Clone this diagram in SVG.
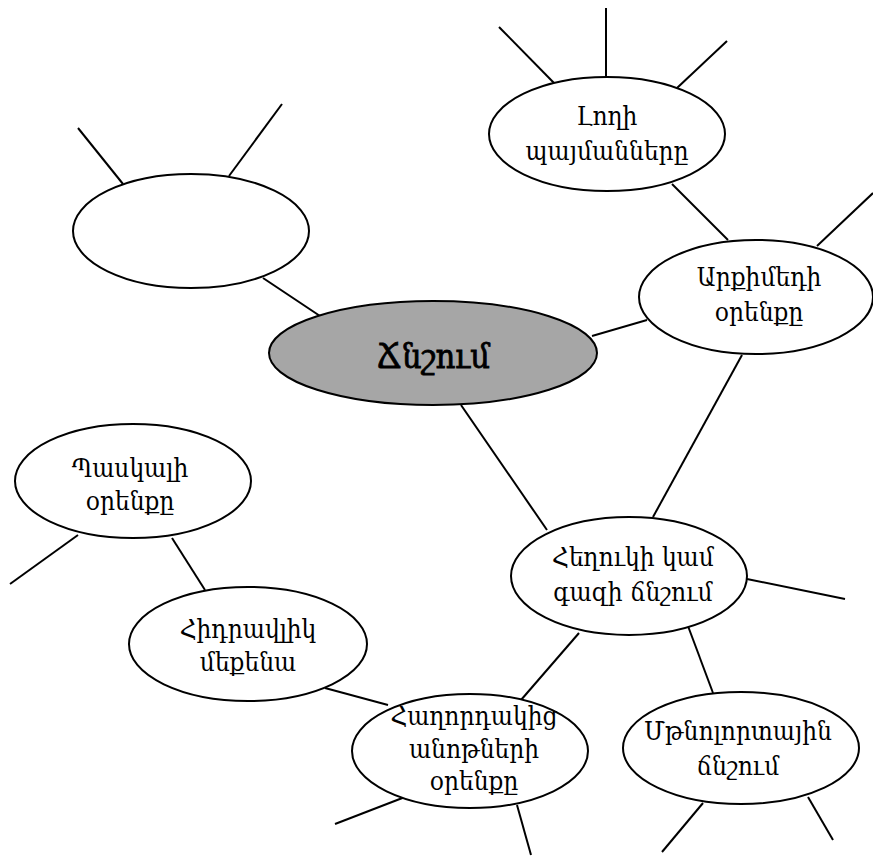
<svg xmlns="http://www.w3.org/2000/svg" width="873" height="856" viewBox="0 0 873 856">
  <style>
    .bg { fill: #ffffff; }
    .edge { stroke: #000000; stroke-width: 2; fill: none; }
    .node { fill: #ffffff; stroke: #000000; stroke-width: 2; }
    .hub { fill: #a6a6a6; stroke: #000000; stroke-width: 2; }
    .label { font-family: "DejaVu Serif Condensed", "DejaVu Serif", serif; font-size: 26px; fill: #000000; text-anchor: middle; }
    .title { font-family: "DejaVu Serif Condensed", "DejaVu Serif", serif; font-size: 34px; fill: #000000; stroke: #000000; stroke-width: 0.8; text-anchor: middle; }
  </style>
  <rect class="bg" x="0" y="0" width="873" height="856"/>

  <!-- connectors: spokes and links between the bubbles -->
  <g id="connectors">
    <line class="edge" x1="499" y1="27" x2="555" y2="84"/>
    <line class="edge" x1="606" y1="8" x2="606" y2="77"/>
    <line class="edge" x1="727" y1="41" x2="677" y2="88"/>
    <line class="edge" x1="672" y1="184" x2="728" y2="240"/>
    <line class="edge" x1="817" y1="246" x2="873" y2="193"/>
    <line class="edge" x1="592" y1="336" x2="647" y2="320"/>
    <line class="edge" x1="742" y1="355" x2="653" y2="517"/>
    <line class="edge" x1="78" y1="128" x2="123" y2="184"/>
    <line class="edge" x1="282" y1="104" x2="229" y2="176"/>
    <line class="edge" x1="263" y1="278" x2="320" y2="316"/>
    <line class="edge" x1="461" y1="405" x2="547" y2="530"/>
    <line class="edge" x1="747" y1="579" x2="845" y2="599"/>
    <line class="edge" x1="579" y1="633" x2="521" y2="700"/>
    <line class="edge" x1="688" y1="626" x2="713" y2="693"/>
    <line class="edge" x1="172" y1="538" x2="205" y2="590"/>
    <line class="edge" x1="10" y1="584" x2="78" y2="535"/>
    <line class="edge" x1="325" y1="688" x2="388" y2="705"/>
    <line class="edge" x1="335" y1="824" x2="405" y2="797"/>
    <line class="edge" x1="517" y1="805" x2="531" y2="855"/>
    <line class="edge" x1="662" y1="852" x2="703" y2="803"/>
    <line class="edge" x1="808" y1="797" x2="833" y2="840"/>
  </g>

  <g id="node-empty">
    <ellipse class="node" cx="191" cy="231" rx="118" ry="57"/>
  </g>

  <g id="node-pressure">
    <ellipse class="hub" cx="433" cy="353" rx="164" ry="52"/>
    <text class="title" x="433" y="368">Ճնշում</text>
  </g>

  <g id="node-soil">
    <ellipse class="node" cx="607" cy="134" rx="118" ry="57"/>
    <text class="label" x="607" y="125">Լողի</text>
    <text class="label" x="607" y="160">պայմանները</text>
  </g>

  <g id="node-archimedes">
    <ellipse class="node" cx="756" cy="297" rx="117" ry="57"/>
    <text class="label" x="759" y="286">Արքիմեդի</text>
    <text class="label" x="759" y="321">օրենքը</text>
  </g>

  <g id="node-fluid">
    <ellipse class="node" cx="629" cy="576" rx="118" ry="59"/>
    <text class="label" x="633" y="566">Հեղուկի կամ</text>
    <text class="label" x="633" y="601">գազի ճնշում</text>
  </g>

  <g id="node-pascal">
    <ellipse class="node" cx="133" cy="481" rx="118" ry="57"/>
    <text class="label" x="130" y="477">Պասկալի</text>
    <text class="label" x="130" y="510">օրենքը</text>
  </g>

  <g id="node-hydraulic">
    <ellipse class="node" cx="248" cy="644" rx="119" ry="57"/>
    <text class="label" x="248" y="638">Հիդրավլիկ</text>
    <text class="label" x="248" y="671">մեքենա</text>
  </g>

  <g id="node-vessels">
    <ellipse class="node" cx="470" cy="751" rx="118" ry="57"/>
    <text class="label" x="474" y="725">Հաղորդակից</text>
    <text class="label" x="474" y="758">անոթների</text>
    <text class="label" x="474" y="790">օրենքը</text>
  </g>

  <g id="node-atmosphere">
    <ellipse class="node" cx="741" cy="748" rx="118" ry="56"/>
    <text class="label" x="738" y="740">Մթնոլորտային</text>
    <text class="label" x="738" y="775">ճնշում</text>
  </g>
</svg>
